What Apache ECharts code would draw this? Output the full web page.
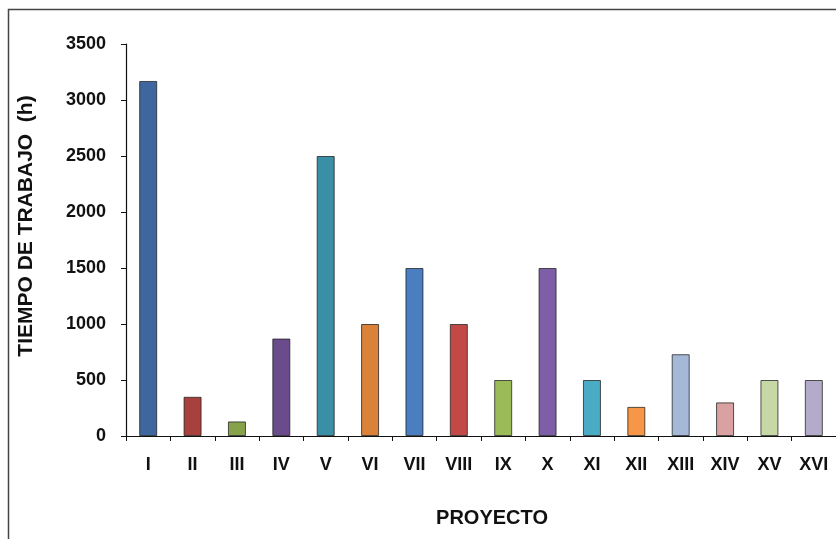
<!DOCTYPE html>
<html><head><meta charset="utf-8">
<script src="https://cdn.jsdelivr.net/npm/echarts@6/dist/echarts.min.js"></script>
<style>html,body{margin:0;padding:0;background:#fff}#c{width:836px;height:539px}</style>
</head><body><div id="c"></div>
<script>
const categories = ['I','II','III','IV','V','VI','VII','VIII','IX','X','XI','XII','XIII','XIV','XV','XVI'];
const values = [3170, 350, 130, 870, 2500, 1000, 1500, 1000, 500, 1500, 500, 260, 730, 300, 500, 500];
const barColors = ['#3e679f','#a8413e','#86a24a','#6a4c8c','#3a8ea6','#d98238','#4a7ec0','#c24946','#9bbb59','#7e5ea6','#4aabc5','#f79646','#a6b8d8','#d9a1a1','#c7d7a6','#b4aaca'];
const yTicks = [0, 500, 1000, 1500, 2000, 2500, 3000, 3500];

const chart = echarts.init(document.getElementById('c'));
chart.setOption({
  animation: false,
  backgroundColor: '#fff',
  graphic: [{
    type: 'polyline', silent: true,
    shape: { points: [[8.5, 545], [8.5, 9.5], [845, 9.5]] },
    style: { stroke: '#444', lineWidth: 1.5, fill: null }
  }],
  grid: { left: 126, top: 44, width: 715, height: 392 },
  xAxis: {
    type: 'category',
    data: categories,
    boundaryGap: true,
    axisLine: { lineStyle: { color: '#111', width: 1.2 } },
    axisTick: { show: true, length: 5, inside: false, alignWithLabel: false, lineStyle: { color: '#111' } },
    axisLabel: { color: '#111', fontFamily: 'Liberation Sans, Arial, sans-serif', fontWeight: 'bold', fontSize: 18, margin: 20 },
    name: 'PROYECTO',
    nameLocation: 'middle',
    nameGap: 72,
    nameTextStyle: { color: '#111', fontFamily: 'Liberation Sans, Arial, sans-serif', fontWeight: 'bold', fontSize: 20, padding: [0, 0, 0, 22] }
  },
  yAxis: {
    type: 'value',
    min: yTicks[0],
    max: yTicks[yTicks.length - 1],
    interval: 500,
    splitLine: { show: false },
    axisLine: { show: true, lineStyle: { color: '#111', width: 1.2 } },
    axisTick: { show: true, length: 5, lineStyle: { color: '#111' } },
    axisLabel: { color: '#111', fontFamily: 'Liberation Sans, Arial, sans-serif', fontWeight: 'bold', fontSize: 18, margin: 20, formatter: v => String(v) },
    name: 'TIEMPO DE TRABAJO  (h)',
    nameLocation: 'middle',
    nameGap: 89,
    nameRotate: 90,
    nameTextStyle: { color: '#111', fontFamily: 'Liberation Sans, Arial, sans-serif', fontWeight: 'bold', fontSize: 21, padding: [0, 0, 0, 28] }
  },
  series: [{
    type: 'bar',
    barWidth: 18,
    data: values.map((v, i) => ({ value: v, itemStyle: { color: barColors[i] } })),
    itemStyle: { borderColor: 'rgba(30,30,30,0.75)', borderWidth: 1 }
  }]
});
</script></body></html>
